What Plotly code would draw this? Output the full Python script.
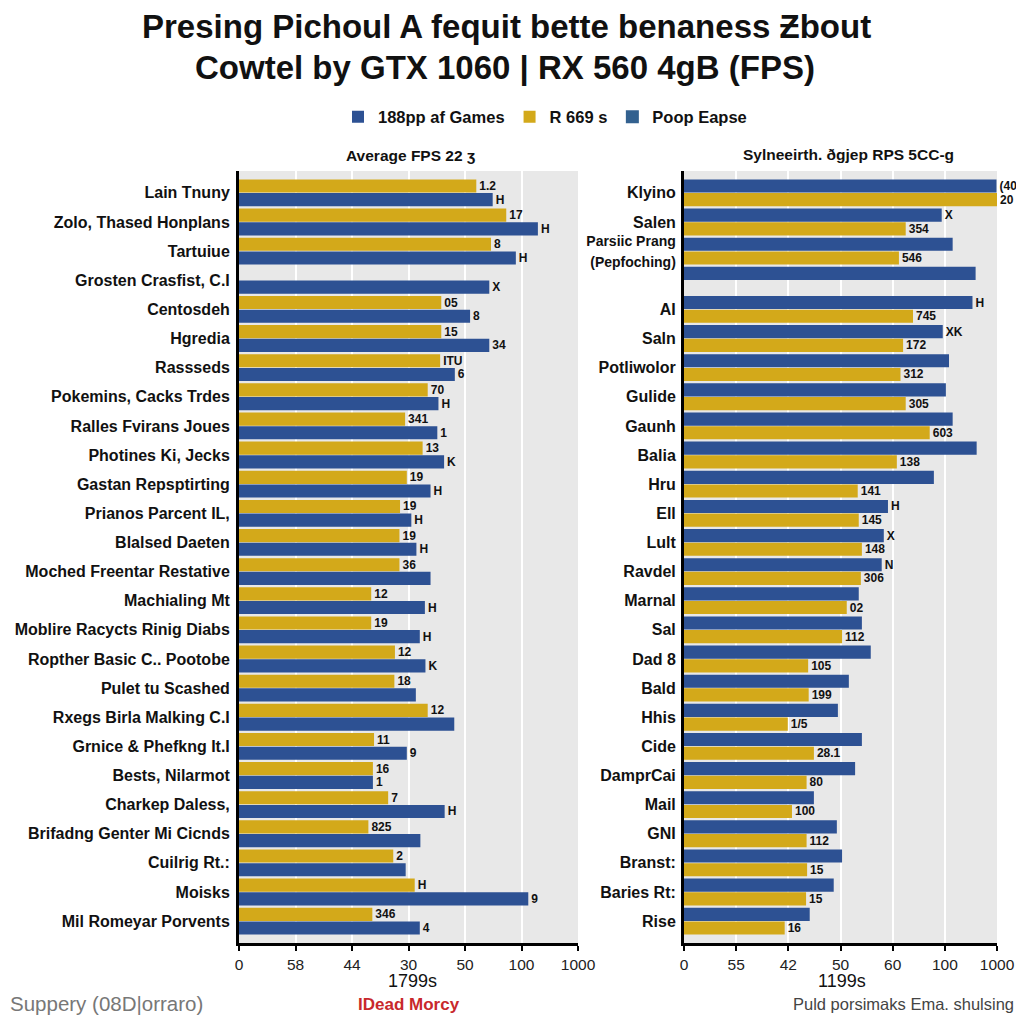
import plotly.graph_objects as go

# ---------------- data ----------------
left_cats = ["Lain Tnuny", "Zolo, Thased Honplans", "Tartuiue", "Grosten Crasfist, C.I",
             "Centosdeh", "Hgredia", "Rassseds", "Pokemins, Cacks Trdes",
             "Ralles Fvirans Joues", "Photines Ki, Jecks", "Gastan Repsptirting",
             "Prianos Parcent IL,", "Blalsed Daeten", "Moched Freentar Restative",
             "Machialing Mt", "Moblire Racycts Rinig Diabs", "Ropther Basic C.. Pootobe",
             "Pulet tu Scashed", "Rxegs Birla Malking C.I", "Grnice & Phefkng It.I",
             "Bests, Nilarmot", "Charkep Daless,", "Brifadng Genter Mi Cicnds",
             "Cuilrig Rt.:", "Moisks", "Mil Romeyar Porvents"]
left_yellow = [4.20, 4.73, 4.46, None, 3.58, 3.58, 3.56, 3.34, 2.94, 3.25, 2.97, 2.85, 2.84,
               2.84, 2.34, 2.34, 2.76, 2.75, 3.34, 2.39, 2.37, 2.64, 2.29, 2.73, 3.11, 2.36]
left_blue = [4.49, 5.29, 4.90, 4.43, 4.09, 4.43, 3.82, 3.53, 3.51, 3.63, 3.39, 3.05, 3.14,
             3.39, 3.29, 3.20, 3.30, 3.13, 3.81, 2.97, 2.37, 3.64, 3.21, 2.95, 5.12, 3.20]
left_yellow_text = ["1.2", "17", "8", "", "05", "15", "ITU", "70", "341", "13", "19", "19", "19",
                    "36", "12", "19", "12", "18", "12", "11", "16", "7", "825", "2", "H", "346"]
left_blue_text = ["H", "H", "H", "X", "8", "34", "6", "H", "1", "K", "H", "H", "H",
                  "", "H", "H", "K", "", "", "9", "1", "H", "", "", "9", "4"]

right_cats = ["Klyino", "Salen",
              "<span style='font-size:14px'>Parsiic Prang<br>(Pepfoching)</span>", " ",
              "AI", "Saln", "Potliwolor", "Gulide", "Gaunh", "Balia", "Hru", "Ell", "Lult",
              "Ravdel", "Marnal", "Sal", "Dad 8", "Bald", "Hhis", "Cide", "DamprCai", "Mail",
              "GNI", "Branst:", "Baries Rt:", "Rise"]
right_blue = [5.99, 4.94, 5.15, 5.59, 5.53, 4.96, 5.08, 5.02, 5.15, 5.61, 4.79, 3.91, 3.83,
              3.79, 3.35, 3.41, 3.58, 3.16, 2.95, 3.41, 3.28, 2.49, 2.93, 3.03, 2.87, 2.41]
right_yellow = [6.0, 4.25, 4.12, None, 4.39, 4.2, 4.15, 4.25, 4.71, 4.08, 3.33, 3.35, 3.41,
                3.39, 3.12, 3.03, 2.38, 2.39, 1.99, 2.49, 2.35, 2.07, 2.35, 2.36, 2.34, 1.93]
right_blue_text = ["(40", "X", "", "", "H", "XK", "", "", "", "", "", "H", "X", "N",
                   "", "", "", "", "", "", "", "", "", "", "", ""]
right_yellow_text = ["20", "354", "546", "", "745", "172", "312", "305", "603", "138", "141",
                     "145", "148", "306", "02", "112", "105", "199", "1/5", "28.1", "80", "100",
                     "112", "15", "15", "16"]

left_tick_text = ["0", "58", "44", "30", "50", "100", "1000"]
right_tick_text = ["0", "55", "42", "50", "60", "100", "1000"]
tick_vals = [0, 1, 2, 3, 4, 5, 6]

series_names = ["188pp af Games", "R 669 s", "Poop Eapse"]

# ---------------- style ----------------
BLUE = "#2D5193"
YELLOW = "#D3A91A"
STEEL = "#33618F"
FONT = "Liberation Sans, Arial, sans-serif"
OFF = 8            # page body margin in the browser
W = H = 1024 - 2 * OFF


def px_x(p):
    return (p - OFF) / W


def px_y(p):
    return 1 - (p - OFF) / H


bar_common = dict(orientation="h", textposition="outside", cliponaxis=False,
                  constraintext="none", textfont=dict(size=12, color="#111", family=FONT,
                                                      weight="bold"),
                  marker_line_width=0)

fig = go.Figure()
# left panel
fig.add_trace(go.Bar(y=left_cats, x=left_yellow, text=left_yellow_text, name=series_names[1],
                     marker_color=YELLOW, xaxis="x", yaxis="y", legendrank=2, **bar_common))
fig.add_trace(go.Bar(y=left_cats, x=left_blue, text=left_blue_text, name=series_names[0],
                     marker_color=BLUE, xaxis="x", yaxis="y", legendrank=1, **bar_common))
# right panel
fig.add_trace(go.Bar(y=right_cats, x=right_blue, text=right_blue_text, name=series_names[0],
                     marker_color=BLUE, xaxis="x2", yaxis="y2", showlegend=False, **bar_common))
fig.add_trace(go.Bar(y=right_cats, x=right_yellow, text=right_yellow_text, name=series_names[1],
                     marker_color=YELLOW, xaxis="x2", yaxis="y2", showlegend=False, **bar_common))
# legend-only entry (no data)
fig.add_trace(go.Scatter(y=[None], x=[None], name=series_names[2], mode="markers",
                         marker=dict(symbol="square", size=13, color=STEEL),
                         xaxis="x", yaxis="y", legendrank=3, hoverinfo="skip"))

ydom = [px_y(943), px_y(171)]
xaxis_common = dict(range=[0, 6], tickvals=tick_vals, showgrid=True, gridcolor="white",
                    gridwidth=2, showline=True, linecolor="black", linewidth=3,
                    ticks="outside", ticklen=5, tickwidth=2, tickcolor="black",
                    tickfont=dict(size=15.5, color="#222", family=FONT), zeroline=False,
                    fixedrange=True, automargin=False)
yaxis_common = dict(range=[25.75, -0.75], showline=True, linecolor="black", linewidth=3,
                    showgrid=False, ticks="", ticklabelstandoff=3, domain=ydom,
                    automargin=False,
                    tickfont=dict(size=16, color="#111", family=FONT, weight="bold"))

fig.update_layout(
    width=W, height=H, margin=dict(l=0, r=0, t=0, b=0, autoexpand=False),
    paper_bgcolor="white", plot_bgcolor="#E8E8E8",
    barmode="group", bargap=0.06, bargroupgap=0.04,
    font=dict(family=FONT, color="#111"),
    xaxis=dict(domain=[px_x(239), px_x(578)], ticktext=left_tick_text, anchor="y",
               **xaxis_common),
    yaxis=dict(anchor="x", **yaxis_common),
    xaxis2=dict(domain=[px_x(684), px_x(997)], ticktext=right_tick_text, anchor="y2",
                **xaxis_common),
    yaxis2=dict(anchor="x2", **{**yaxis_common, "ticklabelstandoff": 2}),
    legend=dict(orientation="h", x=px_x(545), xanchor="center", y=px_y(117), yanchor="middle",
                font=dict(size=16.5, color="#111", family=FONT, weight="bold"),
                bgcolor="rgba(0,0,0,0)", traceorder="normal"),
    showlegend=True,
)

ann = [
    dict(text="<b>Presing Pichoul A fequit bette benaness Ƶbout</b>", x=px_x(506), y=px_y(26),
         font=dict(size=33, color="#111", family=FONT)),
    dict(text="<b>Cowtel by GTX 1060 | RX 560 4gB (FPS)</b>", x=px_x(505), y=px_y(67),
         font=dict(size=33, color="#111", family=FONT)),
    dict(text="<b>Average FPS 22 ʒ</b>", x=px_x(410), y=px_y(155),
         font=dict(size=15.5, color="#111", family=FONT)),
    dict(text="<b>Sylneeirth. ðgjep RPS 5CC-g</b>", x=px_x(848), y=px_y(154),
         font=dict(size=15.5, color="#111", family=FONT)),
    dict(text="1799s", x=px_x(412), y=px_y(981), font=dict(size=18, color="#111", family=FONT)),
    dict(text="1199s", x=px_x(842), y=px_y(981), font=dict(size=18, color="#111", family=FONT)),
    dict(text="Suppery (08D|orraro)", x=px_x(8), y=px_y(1003), xanchor="left",
         font=dict(size=20.5, color="#777", family=FONT)),
    dict(text="<b>IDead Morcy</b>", x=px_x(409), y=px_y(1004),
         font=dict(size=17, color="#C8282C", family=FONT)),
    dict(text="Puld porsimaks Ema. shulsing", x=px_x(1016), y=px_y(1004), xanchor="right",
         font=dict(size=16.5, color="#444", family=FONT)),
]
for a in ann:
    a.setdefault("xanchor", "center")
    a.update(xref="paper", yref="paper", yanchor="middle", showarrow=False)
fig.update_layout(annotations=ann)

fig.write_html("out.html")
